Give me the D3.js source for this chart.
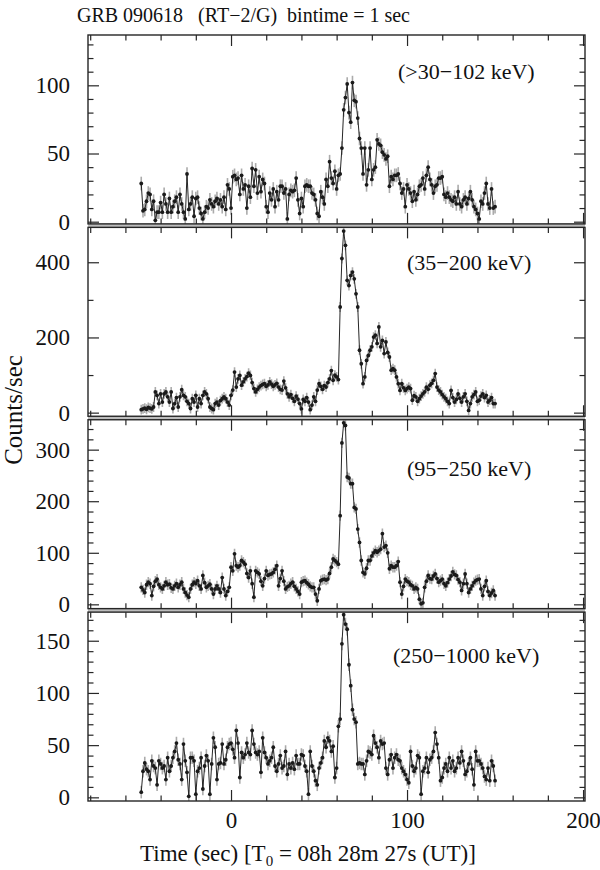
<!DOCTYPE html>
<html lang="en">

<head>
    <meta charset="UTF-8">
    <title>GRB 090618 light curves</title>
    <script src="https://d3js.org/d3.v7.min.js"></script>
    <style>
        body { margin: 0; background: #ffffff; }
        svg text { font-family: "Liberation Serif", "Times New Roman", serif; fill: #111; }
    </style>
</head>

<body>
    <svg id="chart" width="600" height="870"></svg>

    <script>

        // Time bins: first bin and bin width (sec, relative to T0)
        var tStart = -51;
        var binSec = 1;

        // Counts/sec, one value per 1 s bin
        var counts30to102 = [
            28, 8, 9, 15, 21, 20, 9, 15, 1, 7,
            7, 14, 7, 20, 13, 7, 17, 7, 11, 15,
            18, 7, 20, 13, 7, 2, 35, 9, 13, 18,
            4, 17, 18, 10, 6, 2, 7, 11, 10, 16,
            13, 11, 15, 17, 13, 16, 11, 18, 9, 27,
            24, 10, 33, 34, 31, 32, 20, 34, 24, 27,
            10, 26, 18, 39, 26, 38, 21, 33, 22, 31,
            28, 11, 7, 21, 16, 24, 11, 22, 16, 26,
            26, 21, 24, 2, 20, 23, 22, 23, 32, 16,
            6, 17, 11, 26, 27, 26, 26, 21, 20, 16,
            6, 4, 22, 18, 13, 31, 26, 44, 32, 28,
            37, 24, 34, 35, 54, 82, 91, 101, 80, 73,
            102, 89, 88, 76, 61, 54, 35, 54, 27, 38,
            54, 31, 38, 40, 60, 57, 56, 51, 49, 46,
            48, 26, 33, 31, 34, 34, 35, 28, 21, 24,
            11, 27, 24, 21, 15, 22, 16, 20, 26, 27,
            32, 24, 34, 40, 31, 27, 21, 26, 27, 32,
            32, 33, 20, 18, 21, 18, 16, 15, 18, 13,
            22, 13, 11, 16, 18, 13, 17, 22, 16, 11,
            9, 6, 2, 15, 13, 21, 28, 13, 10, 24,
            10, 11
        ];

        var counts35to200 = [
            8, 10, 12, 9, 14, 12, 10, 15, 55, 46,
            24, 50, 28, 50, 55, 42, 28, 55, 11, 24,
            40, 15, 42, 61, 46, 42, 30, 24, 11, 37,
            28, 46, 15, 37, 24, 46, 55, 50, 37, 15,
            11, 8, 24, 28, 20, 32, 37, 42, 37, 28,
            20, 46, 60, 108, 68, 90, 99, 73, 82, 90,
            96, 105, 99, 80, 64, 55, 62, 68, 72, 75,
            77, 70, 74, 82, 76, 70, 74, 78, 68, 62,
            60, 84, 66, 50, 42, 48, 38, 30, 44, 36,
            24, 10, 35, 30, 40, 28, 8, 20, 42, 30,
            60, 77, 70, 62, 72, 68, 80, 90, 112, 86,
            100, 95, 88, 281, 410, 483, 445, 352, 338, 365,
            374, 356, 316, 281, 166, 130, 77, 95, 139, 152,
            166, 175, 201, 206, 184, 228, 175, 192, 157, 188,
            160, 148, 113, 117, 113, 95, 77, 59, 77, 66,
            59, 64, 68, 64, 33, 45, 42, 30, 37, 44,
            50, 55, 68, 62, 73, 78, 86, 104, 68, 60,
            55, 48, 42, 37, 30, 24, 59, 40, 28, 35,
            50, 38, 28, 42, 50, 30, 6, 24, 42, 48,
            55, 30, 33, 44, 50, 40, 46, 28, 33, 40,
            24, 24
        ];

        var counts95to250 = [
            33, 28, 23, 38, 43, 40, 17, 35, 45, 49,
            38, 33, 30, 36, 43, 38, 39, 32, 30, 36,
            40, 33, 38, 43, 30, 23, 18, 14, 30, 38,
            43, 40, 46, 36, 30, 56, 42, 33, 36, 39,
            30, 20, 30, 36, 30, 23, 52, 30, 17, 25,
            33, 72, 65, 98, 75, 72, 75, 85, 82, 78,
            60, 52, 65, 40, 14, 65, 62, 59, 45, 36,
            50, 65, 56, 58, 59, 62, 68, 75, 36, 50,
            65, 45, 30, 34, 36, 40, 43, 35, 30, 25,
            20, 43, 45, 46, 42, 39, 35, 33, 33, 20,
            7, 30, 46, 48, 49, 47, 49, 60, 72, 88,
            85, 82, 78, 172, 313, 352, 347, 247, 245, 234,
            234, 188, 185, 146, 120, 85, 62, 59, 70, 85,
            85, 94, 100, 104, 101, 104, 107, 137, 111, 114,
            100, 69, 75, 72, 72, 75, 83, 43, 20, 35,
            49, 45, 43, 38, 36, 30, 33, 30, 10, 1,
            3, 33, 45, 56, 50, 49, 55, 59, 50, 43,
            46, 49, 40, 36, 42, 49, 55, 63, 58, 56,
            48, 43, 27, 40, 59, 40, 23, 30, 36, 42,
            46, 48, 49, 30, 17, 35, 46, 25, 17, 22,
            27, 17
        ];

        var counts250to1000 = [
            5, 25, 33, 27, 25, 17, 35, 30, 28, 12,
            35, 32, 28, 30, 17, 38, 25, 30, 38, 44,
            52, 36, 32, 17, 51, 35, 24, 1, 38, 38,
            35, 3, 25, 28, 38, 8, 30, 40, 35, 3,
            32, 57, 48, 17, 32, 33, 51, 32, 36, 48,
            51, 52, 46, 38, 64, 52, 19, 43, 38, 41,
            52, 43, 41, 64, 51, 43, 41, 44, 24, 57,
            43, 38, 32, 35, 38, 48, 30, 25, 32, 40,
            28, 30, 44, 22, 32, 28, 33, 27, 40, 32,
            32, 41, 40, 30, 25, 3, 44, 30, 25, 16,
            12, 28, 33, 38, 54, 48, 57, 54, 44, 49,
            19, 28, 68, 75, 147, 175, 166, 161, 127, 107,
            84, 75, 72, 32, 33, 32, 32, 22, 35, 44,
            43, 41, 59, 52, 48, 38, 54, 51, 52, 28,
            22, 36, 41, 28, 38, 41, 36, 35, 28, 25,
            22, 17, 14, 44, 30, 25, 28, 40, 38, 3,
            25, 28, 38, 24, 36, 38, 44, 62, 51, 38,
            16, 19, 28, 32, 25, 38, 28, 35, 25, 28,
            38, 33, 44, 35, 22, 25, 32, 38, 27, 12,
            44, 35, 35, 32, 28, 20, 17, 28, 16, 35,
            30, 16
        ];

        // Typical 1-sigma error (counts/sec) per band
        var errors = [5, 13, 10, 6];

        var bandLabels = ["(>30\u2212102 keV)", "(35\u2212200 keV)", "(95\u2212250 keV)", "(250\u22121000 keV)"];

        // Axis ticks
        var yMajor = [[0, 50, 100], [0, 200, 400], [0, 100, 200, 300], [0, 50, 100, 150]];
        var yMinorStep = [10, 100, 20, 10];
        var yDomains = [[-1.6, 136.9], [-9.6, 492.8], [-8.3, 358], [-3.5, 177.4]];
        var xMajor = [0, 100, 200];
        var xMinorStep = 20;

        var series = [counts30to102, counts35to200, counts95to250, counts250to1000];

        // Layout
        var svg = d3.select("#chart");
        var plotL = 88, plotR = 585, plotT = 35, plotB = 801, gap = 3.5;
        var ph = (plotB - plotT - 3 * gap) / 4;
        var labelPos = [[398, 79], [407, 270], [407, 476], [393, 663]];
        var ink = "#262626";

        var x = d3.scaleLinear().domain([-81.25, 201.1]).range([plotL, plotR]);
        var xMinor = d3.range(-80, 201, xMinorStep).filter(function(v) { return xMajor.indexOf(v) < 0; });

        function styleAxis(g) {
            g.select(".domain").remove();
            g.selectAll(".tick line").attr("stroke", ink).attr("stroke-width", 1.2);
            g.attr("font-family", "Liberation Serif, Times New Roman, serif")
                .attr("font-size", 23);
            g.selectAll("text").attr("fill", "#111");
        }

        // grey bands between panels
        for (var k = 1; k < 4; k++) {
            svg.append("rect")
                .attr("x", plotL)
                .attr("y", plotT + k * ph + (k - 1) * gap)
                .attr("width", plotR - plotL)
                .attr("height", gap)
                .attr("fill", "#bcbcbc");
        }

        series.forEach(function(vals, i) {
            var y0 = plotT + i * (ph + gap);
            var y = d3.scaleLinear().domain(yDomains[i]).range([y0 + ph, y0]);
            var pts = vals.map(function(v, j) { return { t: tStart + j * binSec, v: v }; });
            var minor = d3.range(0, yDomains[i][1], yMinorStep[i]).filter(function(v) { return yMajor[i].indexOf(v) < 0; });

            var g = svg.append("g");

            g.append("clipPath").attr("id", "clip" + i)
                .append("rect").attr("x", plotL).attr("y", y0).attr("width", plotR - plotL).attr("height", ph);

            var data = g.append("g").attr("clip-path", "url(#clip" + i + ")");

            // error bars
            data.selectAll("line.err")
                .data(pts)
                .enter()
                .append("line")
                .attr("class", "err")
                .attr("x1", function(d) { return x(d.t); })
                .attr("x2", function(d) { return x(d.t); })
                .attr("y1", function(d) { return y(d.v - errors[i]); })
                .attr("y2", function(d) { return y(d.v + errors[i]); })
                .attr("stroke", "#ababab")
                .attr("stroke-width", 1.6);

            // connecting line
            data.append("path")
                .datum(pts)
                .attr("fill", "none")
                .attr("stroke", ink)
                .attr("stroke-width", 1)
                .attr("d", d3.line().x(function(d) { return x(d.t); }).y(function(d) { return y(d.v); }));

            // points
            data.selectAll("circle")
                .data(pts)
                .enter()
                .append("circle")
                .attr("cx", function(d) { return x(d.t); })
                .attr("cy", function(d) { return y(d.v); })
                .attr("r", 1.9)
                .attr("fill", "#1a1a1a");

            // frame
            g.append("rect")
                .attr("x", plotL).attr("y", y0)
                .attr("width", plotR - plotL).attr("height", ph)
                .attr("fill", "none")
                .attr("stroke", ink)
                .attr("stroke-width", 1.4);

            // y axes, ticks pointing inward
            g.append("g").attr("transform", "translate(" + plotL + ",0)")
                .call(d3.axisLeft(y).tickValues(yMajor[i]).tickSize(-11).tickPadding(18))
                .call(styleAxis);
            g.append("g").attr("transform", "translate(" + plotL + ",0)")
                .call(d3.axisLeft(y).tickValues(minor).tickSize(-5.5).tickFormat(""))
                .call(styleAxis);
            g.append("g").attr("transform", "translate(" + plotR + ",0)")
                .call(d3.axisRight(y).tickValues(yMajor[i]).tickSize(-11).tickFormat(""))
                .call(styleAxis);
            g.append("g").attr("transform", "translate(" + plotR + ",0)")
                .call(d3.axisRight(y).tickValues(minor).tickSize(-5.5).tickFormat(""))
                .call(styleAxis);

            // x axes top and bottom
            g.append("g").attr("transform", "translate(0," + y0 + ")")
                .call(d3.axisTop(x).tickValues(xMajor).tickSize(-11).tickFormat(""))
                .call(styleAxis);
            g.append("g").attr("transform", "translate(0," + y0 + ")")
                .call(d3.axisTop(x).tickValues(xMinor).tickSize(-5.5).tickFormat(""))
                .call(styleAxis);
            var xb = d3.axisBottom(x).tickValues(xMajor).tickSize(-11).tickPadding(11);
            if (i < 3) xb.tickFormat("");
            g.append("g").attr("transform", "translate(0," + (y0 + ph) + ")")
                .call(xb)
                .call(styleAxis);
            g.append("g").attr("transform", "translate(0," + (y0 + ph) + ")")
                .call(d3.axisBottom(x).tickValues(xMinor).tickSize(-5.5).tickFormat(""))
                .call(styleAxis);

            // energy band label
            g.append("text")
                .attr("x", labelPos[i][0])
                .attr("y", labelPos[i][1])
                .attr("font-size", 22)
                .text(bandLabels[i]);
        });

        // Title
        svg.append("text")
            .attr("x", 77)
            .attr("y", 22)
            .attr("font-size", 20)
            .style("white-space", "pre")
            .text("GRB 090618   (RT\u22122/G)  bintime = 1 sec");

        // Axis titles
        svg.append("text")
            .attr("transform", "translate(22,410) rotate(-90)")
            .attr("text-anchor", "middle")
            .attr("font-size", 25)
            .text("Counts/sec");

        var xt = svg.append("text")
            .attr("x", 140)
            .attr("y", 861)
            .attr("font-size", 23)
            .style("white-space", "pre");
        xt.append("tspan").text("Time (sec) [T");
        xt.append("tspan").attr("font-size", 15).attr("dy", 5).text("0");
        xt.append("tspan").attr("dy", -5).text(" = 08h 28m 27s (UT)]");

    </script>
</body>

</html>
